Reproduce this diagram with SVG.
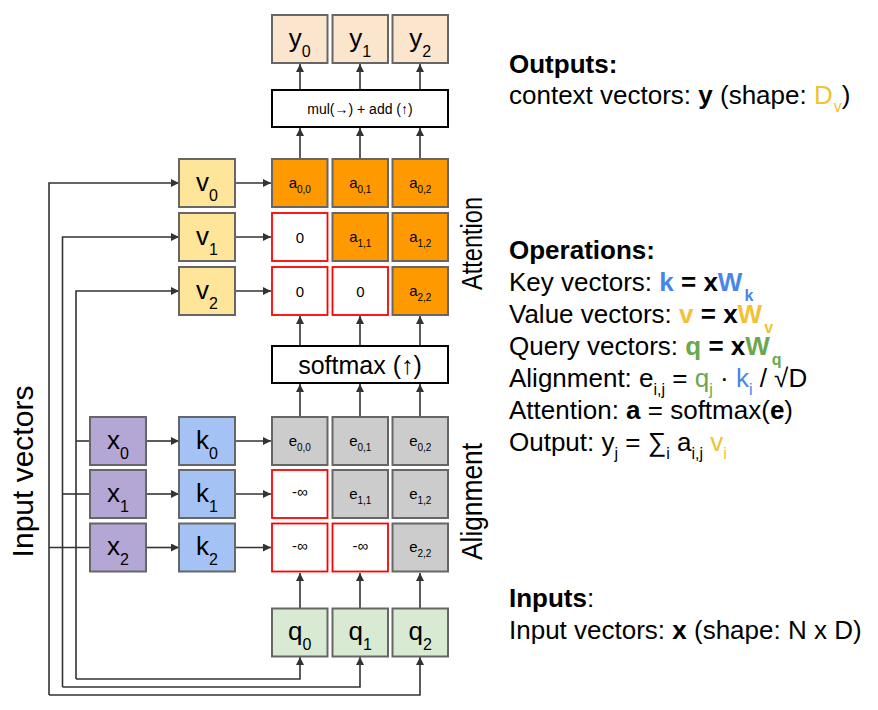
<svg xmlns="http://www.w3.org/2000/svg" width="878" height="710" viewBox="0 0 878 710">
<defs>
<marker id="ah" viewBox="0 0 10 10" refX="10" refY="5" markerWidth="9" markerHeight="8" markerUnits="userSpaceOnUse" orient="auto"><path d="M0,0 L10,5 L0,10 z" fill="#333"/></marker>
<style>
text{font-family:"Liberation Sans",Arial,sans-serif;fill:#000}
.box{stroke:#666;stroke-width:2}
.red{fill:#fff;stroke:#f00;stroke-width:1.8}
.yb{fill:#fce5cd}.vb{fill:#ffe599}.xb{fill:#b4a7d6}.kb{fill:#a4c2f4}.eb{fill:#ccc}.qb{fill:#d9ead3}.ab{fill:#ff9900}
.op{fill:#fff;stroke:#000;stroke-width:2}
.big{font-size:26px;text-anchor:middle}
.bs{font-size:16px}
.sm{font-size:15px;text-anchor:middle}
.ss{font-size:10px}
.r{font-size:26px}
.b{font-weight:bold}
.rs{font-size:16px}
.cb{fill:#4a86e8}.cy{fill:#f1c232}.cg{fill:#6aa84f}
.c{fill:none;stroke:#333;stroke-width:1.6}
.ca{fill:none;stroke:#333;stroke-width:1.6;marker-end:url(#ah)}
</style>
</defs>

<g id="connectors">
<path class="ca" d="M49,695 V183 H179"/>
<path class="ca" d="M49,695 H420 V657"/>
<path class="c" d="M49,547.5 H90"/>
<path class="ca" d="M62.5,687 V237 H179"/>
<path class="ca" d="M62.5,687 H360 V657"/>
<path class="c" d="M62.5,494 H90"/>
<path class="ca" d="M76,679 V291 H179"/>
<path class="ca" d="M76,679 H300 V657"/>
<path class="c" d="M76,441 H90"/>
<path class="ca" d="M147,441 H179"/>
<path class="ca" d="M147,494 H179"/>
<path class="ca" d="M147,547.5 H179"/>
<path class="ca" d="M236,441 H271"/>
<path class="ca" d="M236,494 H271"/>
<path class="ca" d="M236,547.5 H271"/>
<path class="ca" d="M236,183 H271"/>
<path class="ca" d="M236,237 H271"/>
<path class="ca" d="M236,291 H271"/>
<path class="ca" d="M300,608 V573"/>
<path class="ca" d="M360,608 V573"/>
<path class="ca" d="M420,608 V573"/>
<path class="ca" d="M300,416 V384"/>
<path class="ca" d="M360,416 V384"/>
<path class="ca" d="M420,416 V384"/>
<path class="ca" d="M300,346 V316"/>
<path class="ca" d="M360,346 V316"/>
<path class="ca" d="M420,346 V316"/>
<path class="ca" d="M300,158 V128"/>
<path class="ca" d="M360,158 V128"/>
<path class="ca" d="M420,158 V128"/>
<path class="ca" d="M300,90 V64"/>
<path class="ca" d="M360,90 V64"/>
<path class="ca" d="M420,90 V64"/>
</g>

<g id="y0"><rect class="box yb" x="272" y="15" width="55.5" height="48"/><text class="big" x="299.8" y="46.5">y<tspan class="bs" dy="10">0</tspan></text></g>
<g id="y1"><rect class="box yb" x="332.5" y="15" width="55.5" height="48"/><text class="big" x="360.3" y="46.5">y<tspan class="bs" dy="10">1</tspan></text></g>
<g id="y2"><rect class="box yb" x="392.5" y="15" width="55.5" height="48"/><text class="big" x="420.3" y="46.5">y<tspan class="bs" dy="10">2</tspan></text></g>

<g id="mul"><rect class="op" x="272" y="90" width="176" height="37"/><text x="360" y="113.5" font-size="14" text-anchor="middle">mul(→) + add (↑)</text></g>

<g id="a00"><rect class="box ab" x="272" y="159" width="55.5" height="48"/><text class="sm" x="299.8" y="188">a<tspan class="ss" dy="4.5">0,0</tspan></text></g>
<g id="a01"><rect class="box ab" x="332.5" y="159" width="55.5" height="48"/><text class="sm" x="360.3" y="188">a<tspan class="ss" dy="4.5">0,1</tspan></text></g>
<g id="a02"><rect class="box ab" x="392.5" y="159" width="55.5" height="48"/><text class="sm" x="420.3" y="188">a<tspan class="ss" dy="4.5">0,2</tspan></text></g>
<g id="a10"><rect class="red" x="272" y="213" width="55.5" height="48"/><text class="sm" x="299.8" y="242.5">0</text></g>
<g id="a11"><rect class="box ab" x="332.5" y="213" width="55.5" height="48"/><text class="sm" x="360.3" y="242">a<tspan class="ss" dy="4.5">1,1</tspan></text></g>
<g id="a12"><rect class="box ab" x="392.5" y="213" width="55.5" height="48"/><text class="sm" x="420.3" y="242">a<tspan class="ss" dy="4.5">1,2</tspan></text></g>
<g id="a20"><rect class="red" x="272" y="267" width="55.5" height="48"/><text class="sm" x="299.8" y="296.5">0</text></g>
<g id="a21"><rect class="red" x="332.5" y="267" width="55.5" height="48"/><text class="sm" x="360.3" y="296.5">0</text></g>
<g id="a22"><rect class="box ab" x="392.5" y="267" width="55.5" height="48"/><text class="sm" x="420.3" y="296">a<tspan class="ss" dy="4.5">2,2</tspan></text></g>

<g id="softmax"><rect class="op" x="272" y="346" width="176" height="37"/><text x="360" y="373.5" font-size="25" text-anchor="middle">softmax (↑)</text></g>

<g id="v0"><rect class="box vb" x="179" y="159" width="56" height="48"/><text class="big" x="207" y="190.5">v<tspan class="bs" dy="10">0</tspan></text></g>
<g id="v1"><rect class="box vb" x="179" y="213" width="56" height="48"/><text class="big" x="207" y="244.5">v<tspan class="bs" dy="10">1</tspan></text></g>
<g id="v2"><rect class="box vb" x="179" y="267" width="56" height="48"/><text class="big" x="207" y="298.5">v<tspan class="bs" dy="10">2</tspan></text></g>

<g id="x0"><rect class="box xb" x="90" y="417" width="56" height="48"/><text class="big" x="118" y="448.5">x<tspan class="bs" dy="10">0</tspan></text></g>
<g id="x1"><rect class="box xb" x="90" y="470" width="56" height="48"/><text class="big" x="118" y="501.5">x<tspan class="bs" dy="10">1</tspan></text></g>
<g id="x2"><rect class="box xb" x="90" y="523.5" width="56" height="48"/><text class="big" x="118" y="555">x<tspan class="bs" dy="10">2</tspan></text></g>

<g id="k0"><rect class="box kb" x="179" y="417" width="56" height="48"/><text class="big" x="207" y="448.5">k<tspan class="bs" dy="10">0</tspan></text></g>
<g id="k1"><rect class="box kb" x="179" y="470" width="56" height="48"/><text class="big" x="207" y="501.5">k<tspan class="bs" dy="10">1</tspan></text></g>
<g id="k2"><rect class="box kb" x="179" y="523.5" width="56" height="48"/><text class="big" x="207" y="555">k<tspan class="bs" dy="10">2</tspan></text></g>

<g id="e00"><rect class="box eb" x="272" y="417" width="55.5" height="48"/><text class="sm" x="299.8" y="445.5">e<tspan class="ss" dy="5">0,0</tspan></text></g>
<g id="e01"><rect class="box eb" x="332.5" y="417" width="55.5" height="48"/><text class="sm" x="360.3" y="445.5">e<tspan class="ss" dy="5">0,1</tspan></text></g>
<g id="e02"><rect class="box eb" x="392.5" y="417" width="55.5" height="48"/><text class="sm" x="420.3" y="445.5">e<tspan class="ss" dy="5">0,2</tspan></text></g>
<g id="e10"><rect class="red" x="272" y="470" width="55.5" height="48"/><text class="sm" x="299.8" y="497" font-size="13">-∞</text></g>
<g id="e11"><rect class="box eb" x="332.5" y="470" width="55.5" height="48"/><text class="sm" x="360.3" y="498.5">e<tspan class="ss" dy="5">1,1</tspan></text></g>
<g id="e12"><rect class="box eb" x="392.5" y="470" width="55.5" height="48"/><text class="sm" x="420.3" y="498.5">e<tspan class="ss" dy="5">1,2</tspan></text></g>
<g id="e20"><rect class="red" x="272" y="523.5" width="55.5" height="48"/><text class="sm" x="299.8" y="550.5" font-size="13">-∞</text></g>
<g id="e21"><rect class="red" x="332.5" y="523.5" width="55.5" height="48"/><text class="sm" x="360.3" y="550.5" font-size="13">-∞</text></g>
<g id="e22"><rect class="box eb" x="392.5" y="523.5" width="55.5" height="48"/><text class="sm" x="420.3" y="552">e<tspan class="ss" dy="5">2,2</tspan></text></g>

<g id="q0"><rect class="box qb" x="272" y="608.5" width="55.5" height="48"/><text class="big" x="299.8" y="640">q<tspan class="bs" dy="10">0</tspan></text></g>
<g id="q1"><rect class="box qb" x="332.5" y="608.5" width="55.5" height="48"/><text class="big" x="360.3" y="640">q<tspan class="bs" dy="10">1</tspan></text></g>
<g id="q2"><rect class="box qb" x="392.5" y="608.5" width="55.5" height="48"/><text class="big" x="420.3" y="640">q<tspan class="bs" dy="10">2</tspan></text></g>

<text transform="translate(33,471.5) rotate(-90)" font-size="30" text-anchor="middle">Input vectors</text>
<text transform="translate(482,290) rotate(-90)" font-size="30" x="0" y="0" textLength="93" lengthAdjust="spacingAndGlyphs">Attention</text>
<text transform="translate(482,560) rotate(-90)" font-size="30" x="0" y="0" textLength="117" lengthAdjust="spacingAndGlyphs">Alignment</text>

<g id="legend">
<text class="r b" x="509" y="73">Outputs:</text>
<text class="r" x="509" y="104">context vectors: <tspan class="b">y</tspan> (shape: <tspan class="cy">D</tspan><tspan class="cy rs" dx="1" dy="8">v</tspan><tspan dy="-8">)</tspan></text>

<text class="r b" x="509" y="259">Operations:</text>
<text class="r" x="509" y="291">Key vectors: <tspan class="b cb">k</tspan><tspan class="b"> = x</tspan><tspan class="b cb">W</tspan><tspan class="b cb rs" dx="2" dy="10">k</tspan></text>
<text class="r" x="509" y="323">Value vectors: <tspan class="b cy">v</tspan><tspan class="b"> = x</tspan><tspan class="b cy">W</tspan><tspan class="b cy rs" dx="2" dy="10">v</tspan></text>
<text class="r" x="509" y="355">Query vectors: <tspan class="b cg">q</tspan><tspan class="b"> = x</tspan><tspan class="b cg">W</tspan><tspan class="b cg rs" dx="2" dy="10">q</tspan></text>
<text class="r" x="509" y="387">Alignment: e<tspan class="rs" dy="8">i,j</tspan><tspan dy="-8"> = </tspan><tspan class="cg">q</tspan><tspan class="cg rs" dy="8">j</tspan><tspan dy="-8"> · </tspan><tspan class="cb">k</tspan><tspan class="cb rs" dy="8">i</tspan><tspan dy="-8"> / √D</tspan></text>
<text class="r" x="509" y="419">Attention: <tspan class="b">a</tspan> = softmax(<tspan class="b">e</tspan>)</text>
<text class="r" x="509" y="451">Output: y<tspan class="rs" dy="8">j</tspan><tspan dy="-8"> = ∑</tspan><tspan class="rs" dy="8">i</tspan><tspan dy="-8"> a</tspan><tspan class="rs" dy="8">i,j</tspan><tspan dy="-8" class="cy"> v</tspan><tspan class="cy rs" dy="8">i</tspan></text>

<text class="r" x="509" y="607"><tspan class="b">Inputs</tspan>:</text>
<text class="r" x="509" y="639">Input vectors: <tspan class="b">x</tspan> (shape: N x D)</text>
</g>
</svg>
